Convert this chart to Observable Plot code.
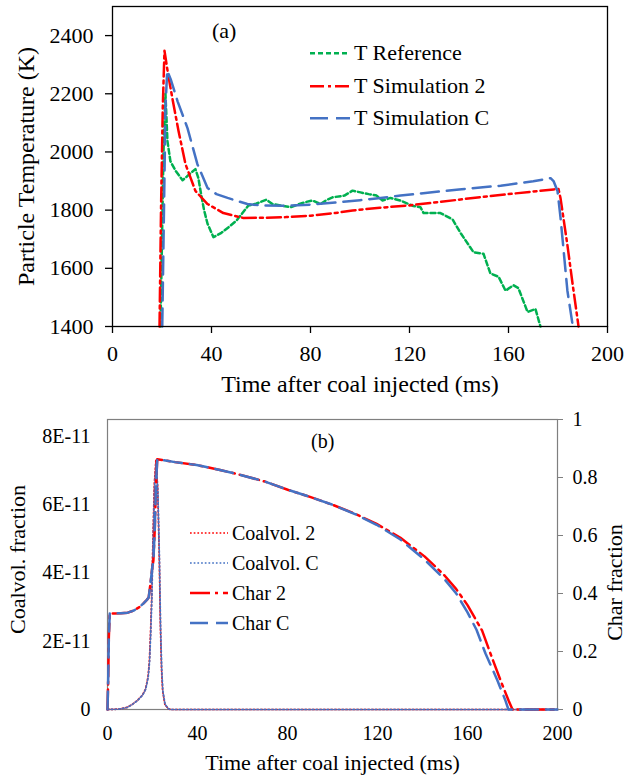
<!DOCTYPE html>
<html>
<head>
<meta charset="utf-8">
<script src="https://cdn.jsdelivr.net/npm/d3@7"></script>
<script src="https://cdn.jsdelivr.net/npm/@observablehq/plot@0.6"></script>
<style>
  body { margin: 0; background: #fff; }
  #wrap { position: relative; width: 627px; height: 778px; font-family: "Liberation Serif", "Times New Roman", serif; color: #000; }
  .panel { position: absolute; left: 0; }
  .panel svg { display: block; }
  #wrap svg, #wrap svg text { font-family: "Liberation Serif", "Times New Roman", serif !important; }
</style>
</head>
<body>
<div id="wrap">
  <div id="top" class="panel" style="top:0px"></div>
  <div id="botL" class="panel" style="top:400px"></div>
  <div id="botR" class="panel" style="top:400px"></div>
</div>
<script>
// ---------- DATA ----------
const timeTicks = [0, 40, 80, 120, 160, 200];
const timeTickLabels = ["0", "40", "80", "120", "160", "200"];
const tempTicks = [1400, 1600, 1800, 2000, 2200, 2400];
const tempTickLabels = ["1400", "1600", "1800", "2000", "2200", "2400"];
const coalTicks = [0, 2e-11, 4e-11, 6e-11, 8e-11];
const coalTickLabels = ["0", "2E-11", "4E-11", "6E-11", "8E-11"];
const charTicks = [0, 0.2, 0.4, 0.6, 0.8, 1];
const charTickLabels = ["0", "0.2", "0.4", "0.6", "0.8", "1"];

const xTitle = "Time after coal injected (ms)";
const tempTitle = "Particle Temperature (K)";
const coalTitle = "Coalvol. fraction";
const charTitle = "Char fraction";
const topSeriesNames = ["T Reference", "T Simulation 2", "T Simulation C"];
const botSeriesNames = ["Coalvol. 2", "Coalvol. C", "Char 2", "Char C"];

// (a) particle temperature
const refTime = [19.4, 20.0, 20.6, 21.4, 22.2, 23.4, 25.5, 28.3, 30.0, 31.5, 33.5, 34.7, 35.8, 37.0, 38.4, 40.8, 44.0, 47.0, 50.1, 54.9, 58.0, 62.2, 64.6, 67.9, 71.9, 74.5, 77.6, 80.8, 84.0, 86.5, 88.9, 93.7, 97.0, 100.2, 103.5, 106.7, 109.1, 112.3, 116.4, 119.6, 121.6, 124.4, 125.7, 132.5, 137.4, 140.6, 145.9, 149.9, 152.7, 156.0, 158.8, 162.0, 164.0, 167.7, 170.9, 172.9];
const refTemp = [1400, 1700, 2000, 2200, 2037, 1968, 1935, 1903, 1915, 1927, 1941, 1910, 1855, 1800, 1753, 1707, 1722, 1742, 1764, 1816, 1822, 1836, 1821, 1816, 1810, 1818, 1827, 1833, 1821, 1835, 1844, 1850, 1867, 1861, 1855, 1850, 1833, 1842, 1833, 1821, 1814, 1810, 1790, 1790, 1768, 1722, 1655, 1650, 1582, 1571, 1523, 1542, 1532, 1450, 1460, 1400];

const sim2Time = [19.0, 19.6, 20.3, 21.0, 22.5, 24.2, 26.7, 29.5, 33.5, 38.4, 44.8, 52.9, 61.4, 70.0, 80.0, 90.0, 97.0, 108.0, 119.6, 130.0, 140.0, 150.0, 160.0, 170.0, 178.2, 180.2, 181.0, 183.8, 186.0, 188.3];
const sim2Temp = [1400, 1800, 2150, 2348, 2265, 2184, 2071, 1958, 1866, 1821, 1790, 1773, 1774, 1776, 1781, 1790, 1799, 1808, 1816, 1826, 1836, 1846, 1855, 1864, 1871, 1873, 1842, 1680, 1540, 1400];

const simCTime = [20.1, 20.8, 21.4, 22.1, 23.5, 26.3, 30.3, 34.3, 38.4, 42.0, 46.5, 54.5, 60.0, 70.0, 80.0, 90.0, 100.0, 108.3, 116.4, 130.0, 140.0, 156.8, 170.0, 177.0, 178.2, 179.8, 181.0, 183.8, 186.0];
const simCTemp = [1400, 1800, 2150, 2280, 2250, 2174, 2082, 1958, 1876, 1855, 1842, 1821, 1816, 1815, 1819, 1826, 1834, 1842, 1850, 1862, 1871, 1884, 1899, 1910, 1900, 1866, 1776, 1523, 1400];

// (b) coal volatile fraction (left axis)
const coal2Time = [0, 5.0, 8.7, 11.0, 13.2, 15.5, 16.9, 18.0, 18.6, 19.1, 19.6, 20.2, 20.8, 21.5, 22.3, 23.0, 23.5, 24.0, 24.5, 25.5, 27.0, 28.0, 200];
const coal2Val = [0, 0.01e-11, 0.06e-11, 0.15e-11, 0.26e-11, 0.42e-11, 0.6e-11, 0.95e-11, 1.4e-11, 2.2e-11, 3.2e-11, 5.0e-11, 6.6e-11, 7.3e-11, 6.5e-11, 4.5e-11, 2.5e-11, 1.2e-11, 0.55e-11, 0.15e-11, 0.02e-11, 0, 0];
const coalCTime = [0, 5.1, 8.8, 11.1, 13.3, 15.6, 17.0, 18.1, 18.7, 19.2, 19.7, 20.3, 20.9, 21.6, 22.4, 23.1, 23.6, 24.1, 24.6, 25.6, 27.1, 28.1, 200];
const coalCVal = [0, 0.01e-11, 0.06e-11, 0.15e-11, 0.26e-11, 0.42e-11, 0.6e-11, 0.95e-11, 1.4e-11, 2.2e-11, 3.2e-11, 5.0e-11, 6.5e-11, 7.2e-11, 6.4e-11, 4.4e-11, 2.4e-11, 1.2e-11, 0.55e-11, 0.15e-11, 0.02e-11, 0, 0];

// (b) char fraction (right axis)
const char2Time = [0, 0.3, 0.6, 1.0, 3.0, 6.0, 9.0, 11.6, 14.0, 16.0, 17.5, 18.3, 19.1, 19.9, 20.4, 21.0, 21.5, 22.1, 30.0, 39.6, 50.0, 59.1, 70.0, 80.4, 90.0, 100.0, 110.0, 119.6, 130.2, 140.9, 149.8, 155.0, 160.0, 166.5, 170.2, 174.7, 178.3, 180.0, 200];
const char2Val = [0, 0.10, 0.25, 0.331, 0.331, 0.332, 0.334, 0.341, 0.352, 0.366, 0.378, 0.386, 0.434, 0.49, 0.514, 0.62, 0.76, 0.863, 0.853, 0.843, 0.826, 0.809, 0.786, 0.757, 0.733, 0.706, 0.675, 0.640, 0.592, 0.528, 0.462, 0.415, 0.36, 0.272, 0.193, 0.10, 0.03, 0, 0];
const charCTime = [0, 0.3, 0.6, 1.0, 3.0, 6.0, 9.0, 11.6, 14.0, 16.0, 17.5, 18.3, 19.1, 19.9, 20.4, 21.0, 21.5, 22.1, 30.0, 39.6, 50.0, 59.1, 70.0, 80.4, 90.0, 100.0, 110.0, 119.6, 130.2, 140.9, 149.8, 155.0, 160.0, 164.0, 168.0, 173.3, 176.9, 178.2, 200];
const charCVal = [0, 0.10, 0.25, 0.331, 0.331, 0.332, 0.334, 0.341, 0.352, 0.366, 0.378, 0.386, 0.434, 0.49, 0.514, 0.62, 0.76, 0.863, 0.853, 0.843, 0.826, 0.809, 0.786, 0.757, 0.733, 0.706, 0.674, 0.637, 0.586, 0.517, 0.449, 0.40, 0.335, 0.275, 0.193, 0.10, 0.03, 0, 0];

// ---------- STYLES ----------
const FONT = '"Liberation Serif", "Times New Roman", serif';
const GREEN = "#00B050", RED = "#FF0000", BLUE = "#4472C4";
const topStyles = [
  {stroke: GREEN, width: 2.5, dash: "5,3"},
  {stroke: RED, width: 2.5, dash: "14,4,3,4"},
  {stroke: BLUE, width: 2.5, dash: "18,8"}
];
const botStyles = [
  {stroke: RED, width: 1.7, dash: "1.7,2"},
  {stroke: BLUE, width: 1.7, dash: "1.7,2"},
  {stroke: RED, width: 2.5, dash: "20,5,3,5"},
  {stroke: BLUE, width: 2.5, dash: "18,8"}
];

const series = (ts, vs) => ts.map((t, i) => ({t, v: vs[i]}));
const lbl = (ticks, labels) => d => labels[ticks.indexOf(d)];
const lineOf = (data, s) => Plot.line(data, {x: "t", y: "v", stroke: s.stroke, strokeWidth: s.width, strokeDasharray: s.dash, curve: "linear"});

// ---------- (a) ----------
const topPlot = Plot.plot({
  width: 627, height: 400,
  marginLeft: 112, marginRight: 20, marginTop: 6, marginBottom: 74,
  style: {fontFamily: FONT, fontSize: "22px", color: "#000", background: "transparent", overflow: "visible"},
  x: {domain: [0, 200]},
  y: {domain: [1400, 2500]},
  marks: [
    lineOf(series(refTime, refTemp), topStyles[0]),
    lineOf(series(sim2Time, sim2Temp), topStyles[1]),
    lineOf(series(simCTime, simCTemp), topStyles[2]),
    Plot.frame({stroke: "#000", strokeWidth: 1.3}),
    Plot.axisX(timeTicks, {tickSize: 7, tickPadding: 12, tickFormat: lbl(timeTicks, timeTickLabels), label: null, strokeWidth: 1.3}),
    Plot.axisY(tempTicks, {tickSize: 7, tickPadding: 12, tickFormat: lbl(tempTicks, tempTickLabels), label: null, strokeWidth: 1.3}),
    Plot.text([xTitle], {text: d => d, frameAnchor: "bottom", textAnchor: "middle", lineAnchor: "bottom", dy: 65, fontSize: 24}),
    Plot.text([tempTitle], {text: d => d, frameAnchor: "left", textAnchor: "middle", rotate: -90, lineAnchor: "top", dx: -96, fontSize: 24})
  ]
});
document.getElementById("top").appendChild(topPlot);

// ---------- (b) left: coal volatiles ----------
const botLeft = Plot.plot({
  width: 627, height: 378,
  marginLeft: 107, marginRight: 70, marginTop: 19, marginBottom: 69,
  style: {fontFamily: FONT, fontSize: "20px", color: "#000", background: "transparent", overflow: "visible"},
  x: {domain: [0, 200]},
  y: {domain: [0, 8.5e-11]},
  marks: [
    Plot.frame({stroke: "#7f7f7f", strokeWidth: 1.2}),
    lineOf(series(coal2Time, coal2Val), botStyles[0]),
    lineOf(series(coalCTime, coalCVal), botStyles[1]),
    Plot.axisX(timeTicks, {tickSize: 0, tickPadding: 16, tickFormat: lbl(timeTicks, timeTickLabels), label: null}),
    Plot.axisY(coalTicks, {tickSize: 0, tickPadding: 17, tickFormat: lbl(coalTicks, coalTickLabels), label: null}),
    Plot.text([xTitle], {text: d => d, frameAnchor: "bottom", textAnchor: "middle", lineAnchor: "bottom", dy: 60, fontSize: 22}),
    Plot.text([coalTitle], {text: d => d, frameAnchor: "left", textAnchor: "middle", rotate: -90, lineAnchor: "top", dx: -98, dy: -5, fontSize: 22})
  ]
});
document.getElementById("botL").appendChild(botLeft);

// ---------- (b) right: char ----------
const botRight = Plot.plot({
  width: 627, height: 378,
  marginLeft: 107, marginRight: 70, marginTop: 19, marginBottom: 69,
  style: {fontFamily: FONT, fontSize: "20px", color: "#000", background: "transparent", overflow: "visible"},
  x: {domain: [0, 200], axis: null},
  y: {domain: [0, 1]},
  marks: [
    lineOf(series(char2Time, char2Val), botStyles[2]),
    lineOf(series(charCTime, charCVal), botStyles[3]),
    Plot.axisY(charTicks, {anchor: "right", tickSize: 5, tickPadding: 10, tickFormat: lbl(charTicks, charTickLabels), label: null, stroke: "#7f7f7f"}),
    Plot.text([charTitle], {text: d => d, frameAnchor: "right", textAnchor: "middle", rotate: -90, lineAnchor: "bottom", dx: 64, dy: 18, fontSize: 22})
  ]
});
document.getElementById("botR").appendChild(botRight);

// ---------- legends & panel tags ----------
const wrap = d3.select("#wrap");
function legend(names, styles, cfg) {
  const box = wrap.append("div").style("position", "absolute")
    .style("left", cfg.left + "px").style("top", cfg.top + "px");
  names.forEach((name, i) => {
    const s = styles[i];
    const row = box.append("div").style("display", "flex").style("align-items", "center")
      .style("height", cfg.rowH + "px");
    const svg = row.append("svg").attr("width", cfg.sampleW).attr("height", cfg.rowH);
    svg.append("line").attr("x1", 0).attr("x2", cfg.sampleW)
      .attr("y1", cfg.rowH / 2).attr("y2", cfg.rowH / 2)
      .attr("stroke", s.stroke).attr("stroke-width", s.width).attr("stroke-dasharray", s.dash);
    row.append("span").text(name).style("margin-left", cfg.gap + "px")
      .style("font-size", cfg.fontSize + "px").style("white-space", "nowrap");
  });
}
legend(topSeriesNames, topStyles, {left: 310, top: 37, rowH: 32.5, sampleW: 40, gap: 4, fontSize: 22});
legend(botSeriesNames, botStyles, {left: 190, top: 518, rowH: 30, sampleW: 38, gap: 4, fontSize: 20});

function tag(text, left, top, size) {
  wrap.append("div").text(text).style("position", "absolute").style("left", left + "px")
    .style("top", top + "px").style("font-size", size + "px").style("line-height", "1");
}
tag("(a)", 212, 20, 22);
tag("(b)", 311, 431, 20);
</script>
</body>
</html>
